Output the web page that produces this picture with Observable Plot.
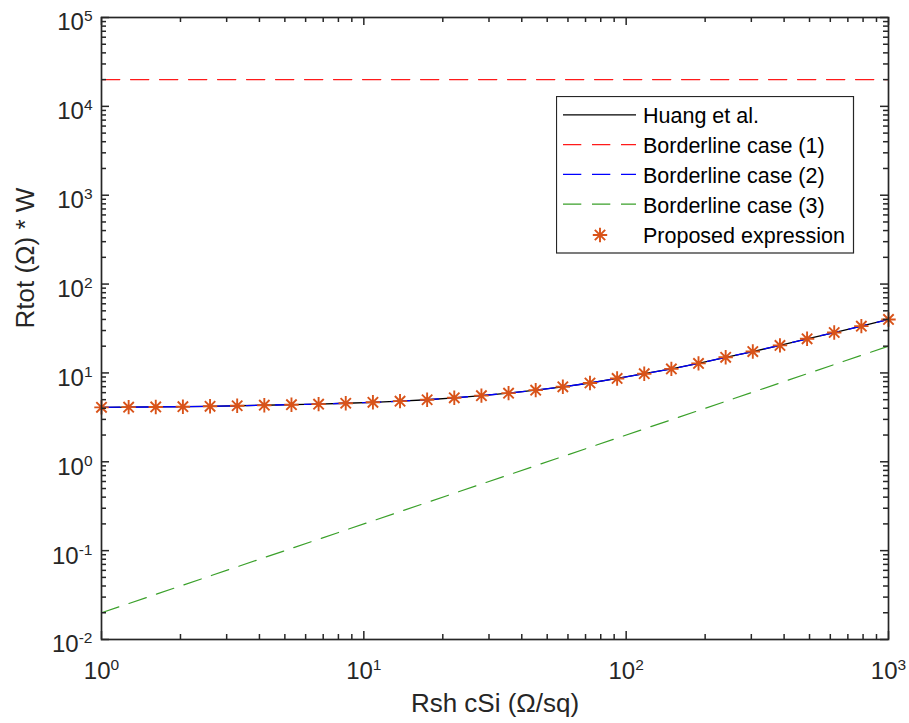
<!DOCTYPE html>
<html><head><meta charset="utf-8">
<script src="https://cdn.jsdelivr.net/npm/d3@7"></script>
<script src="https://cdn.jsdelivr.net/npm/@observablehq/plot@0.6"></script>
<style>
body{margin:0;background:#fff;}
#wrap{position:relative;width:909px;height:723px;font-family:"Liberation Sans",Arial,sans-serif;}
#legend{position:absolute;left:556px;top:96px;}
</style></head><body><div id="wrap"></div>
<script>
// ---- data ----
const rshCSi = [1, 1.269, 1.610, 2.043, 2.593, 3.290, 4.175, 5.298, 6.723, 8.532,
  10.83, 13.74, 17.43, 22.12, 28.07, 35.62, 45.20, 57.36, 72.79, 92.37,
  117.2, 148.7, 188.7, 239.5, 303.9, 385.7, 489.4, 621.0, 788.0, 1000];
const huang = [4.10, 4.12, 4.14, 4.17, 4.21, 4.27, 4.33, 4.39, 4.45, 4.56,
  4.67, 4.81, 4.99, 5.25, 5.55, 5.92, 6.40, 6.98, 7.70, 8.66,
  9.8, 11.1, 12.8, 15.0, 17.4, 20.4, 24.2, 28.5, 33.6, 40.0];
const case2 = [4.10, 4.12, 4.14, 4.17, 4.21, 4.27, 4.33, 4.39, 4.45, 4.56,
  4.67, 4.81, 4.99, 5.25, 5.55, 5.92, 6.40, 6.98, 7.70, 8.66,
  9.8, 11.1, 12.8, 15.0, 17.4, 20.4, 24.2, 28.5, 33.6, 40.0];
const proposed = [4.10, 4.12, 4.14, 4.17, 4.21, 4.27, 4.33, 4.39, 4.45, 4.56,
  4.67, 4.81, 4.99, 5.25, 5.55, 5.92, 6.40, 6.98, 7.70, 8.66,
  9.8, 11.1, 12.8, 15.0, 17.4, 20.4, 24.2, 28.5, 33.6, 40.0];
const case1X = [1, 1000];
const case1Y = [20000, 20000];
const case3X = [1, 1000];
const case3Y = [0.02, 20];

const seriesNames = ["Huang et al.", "Borderline case (1)", "Borderline case (2)", "Borderline case (3)", "Proposed expression"];
const seriesColors = ["#000000", "#ff1a1a", "#0000ff", "#3aa02a", "#d95319"];
const xTickExps = [0, 1, 2, 3];
const yTickExps = [-2, -1, 0, 1, 2, 3, 4, 5];
const xLabel = "Rsh cSi (\u03A9/sq)";
const yLabel = "Rtot (\u03A9) * W";

// ---- layout ----
const W = 909, H = 723;
const mL = 101, mR = 21, mT = 17, mB = 84;
const fw = W - mL - mR, fh = H - mT - mB;
const ink = "#262626";

const xMajor = xTickExps.map(e => Math.pow(10, e));
const yMajor = yTickExps.map(e => Math.pow(10, e));
const minorOf = (exps) => exps.slice(0, -1).flatMap(e => d3.range(2, 10).map(m => m * Math.pow(10, e)));
const xMinor = minorOf(xTickExps);
const yMinor = minorOf(yTickExps);

const rows = (xs, ys) => xs.map((x, i) => ({x, y: ys[i]}));

// MATLAB-like 8-armed asterisk
const asterisk = {
  draw(ctx, size) {
    const r = Math.sqrt(size / Math.PI);
    const d = r * 0.72;
    ctx.moveTo(-r, 0); ctx.lineTo(r, 0);
    ctx.moveTo(0, -r); ctx.lineTo(0, r);
    ctx.moveTo(-d, -d); ctx.lineTo(d, d);
    ctx.moveTo(-d, d); ctx.lineTo(d, -d);
  }
};
const MR = 7.2, MSW = 1.9;

const MAJ = 8, MIN = 5;
const chart = Plot.plot({
  width: W, height: H,
  marginLeft: mL, marginRight: mR, marginTop: mT, marginBottom: mB,
  style: {fontFamily: "'Liberation Sans', Arial, sans-serif", color: ink, background: "transparent"},
  x: {type: "log", domain: [1, 1000], axis: null},
  y: {type: "log", domain: [1e-2, 1e5], axis: null},
  marks: [
    // data
    Plot.line(rows(rshCSi, huang), {x: "x", y: "y", stroke: seriesColors[0], strokeWidth: 1.3}),
    Plot.line(rows(case1X, case1Y), {x: "x", y: "y", stroke: seriesColors[1], strokeWidth: 1.2, strokeDasharray: "18.3,10.7"}),
    Plot.line(rows(rshCSi, case2), {x: "x", y: "y", stroke: seriesColors[2], strokeWidth: 1.3, strokeDasharray: "18.3,10.7"}),
    Plot.line(rows(case3X, case3Y), {x: "x", y: "y", stroke: seriesColors[3], strokeWidth: 1.2, strokeDasharray: "18.3,10.7"}),
    Plot.dot(rows(rshCSi, proposed), {x: "x", y: "y", symbol: asterisk, r: MR, stroke: seriesColors[4], strokeWidth: MSW, fill: "none"}),
    // ticks (inward, all four sides)
    Plot.tickX(xMajor, {x: d => d, insetTop: fh - MAJ, stroke: ink, strokeWidth: 1.5}),
    Plot.tickX(xMajor, {x: d => d, insetBottom: fh - MAJ, stroke: ink, strokeWidth: 1.5}),
    Plot.tickX(xMinor, {x: d => d, insetTop: fh - MIN, stroke: ink, strokeWidth: 1.5}),
    Plot.tickX(xMinor, {x: d => d, insetBottom: fh - MIN, stroke: ink, strokeWidth: 1.5}),
    Plot.tickY(yMajor, {y: d => d, insetRight: fw - MAJ, stroke: ink, strokeWidth: 1.5}),
    Plot.tickY(yMajor, {y: d => d, insetLeft: fw - MAJ, stroke: ink, strokeWidth: 1.5}),
    Plot.tickY(yMinor, {y: d => d, insetRight: fw - MIN, stroke: ink, strokeWidth: 1.5}),
    Plot.tickY(yMinor, {y: d => d, insetLeft: fw - MIN, stroke: ink, strokeWidth: 1.5}),
    Plot.frame({stroke: ink, strokeWidth: 1.7}),
    // tick labels
    Plot.text(xTickExps, {x: e => Math.pow(10, e), frameAnchor: "bottom", text: e => "10^" + e,
      lineAnchor: "top", textAnchor: "middle", dy: 22, fontSize: 24, fill: ink, className: "explabel"}),
    Plot.text(yTickExps, {y: e => Math.pow(10, e), frameAnchor: "left", text: e => "10^" + e,
      lineAnchor: "middle", textAnchor: "end", dx: -9, dy: 5.3, fontSize: 24, fill: ink, className: "explabel"}),
    // axis labels
    Plot.text([xLabel], {frameAnchor: "bottom", text: d => d, lineAnchor: "middle", dy: 64, fontSize: 26, fill: ink}),
    Plot.text([yLabel], {frameAnchor: "left", text: d => d, lineAnchor: "middle", rotate: -90, dx: -76, fontSize: 26, fill: ink})
  ]
});

// convert "10^k" into base + superscript tspans
d3.select(chart).selectAll(".explabel text").each(function () {
  const s = this.textContent;
  const m = s.match(/^(\d+)\^(-?\d+)$/);
  if (!m) return;
  const t = d3.select(this);
  t.text(null);
  t.append("tspan").text(m[1]);
  t.append("tspan").attr("dy", "-9").attr("font-size", "15.5px").text(m[2]);
});

const wrap = document.getElementById("wrap");
wrap.appendChild(chart);

// ---- legend (inside the axes, top right) ----
const lg = d3.select(wrap).append("svg").attr("id", "legend")
  .attr("width", 300).attr("height", 160)
  .style("font-family", "'Liberation Sans', Arial, sans-serif");
lg.append("rect").attr("x", 0.5).attr("y", 0.5).attr("width", 297).attr("height", 156.5)
  .attr("fill", "#fff").attr("stroke", ink).attr("stroke-width", 1.2);
const dashes = [null, "18.3,10.7", "18.3,10.7", "18.3,10.7", null];
seriesNames.forEach((name, i) => {
  const base = 27.3 + i * 29.8;
  const cy = base - 8.5;
  if (i < 4) {
    lg.append("line").attr("x1", 7).attr("x2", 80).attr("y1", cy).attr("y2", cy)
      .attr("stroke", seriesColors[i]).attr("stroke-width", 1.2)
      .attr("stroke-dasharray", dashes[i]);
  } else {
    const p = d3.path();
    asterisk.draw(p, Math.PI * MR * MR);
    lg.append("path").attr("d", p.toString()).attr("transform", `translate(44,${cy + 1})`)
      .attr("stroke", seriesColors[i]).attr("stroke-width", MSW).attr("fill", "none");
  }
  lg.append("text").attr("x", 87).attr("y", base).attr("font-size", "21.5px")
    .attr("fill", "#000").text(name);
});
</script>
</body></html>
